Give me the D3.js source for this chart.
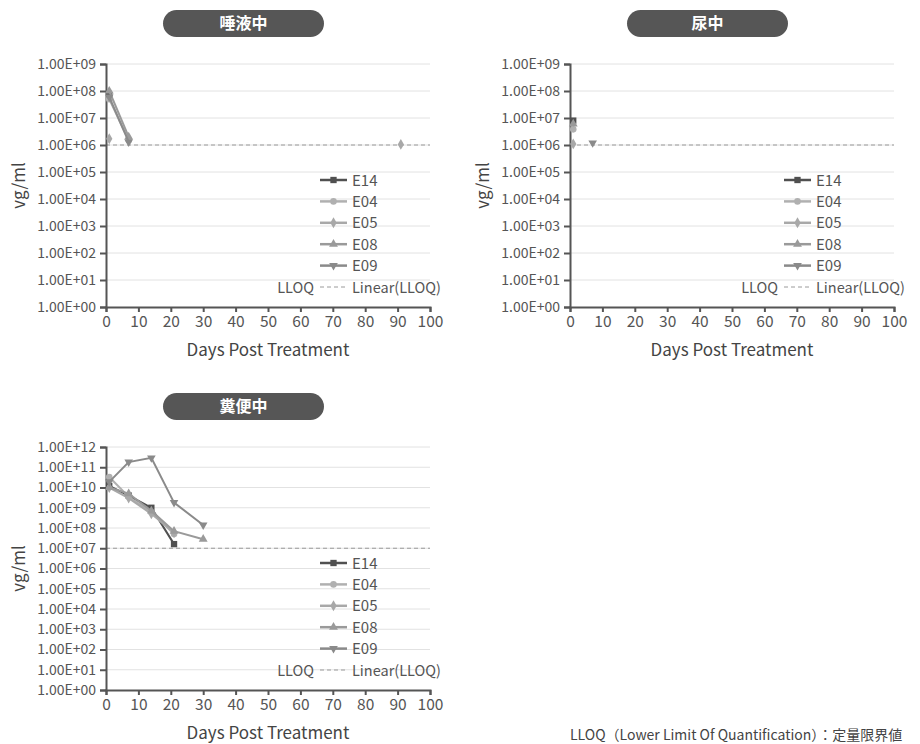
<!DOCTYPE html>
<html>
<head>
<meta charset="utf-8">
<script src="https://cdn.jsdelivr.net/npm/d3@7"></script>
<style>
  body { margin: 0; background: #fff; }
  svg { display: block; font-family: "Noto Sans CJK JP", "Noto Sans", sans-serif; }
</style>
</head>
<body>
<div id="chart"></div>
<script>
// données
const seriesNames = ["E14", "E04", "E05", "E08", "E09"];
const seriesColors = ["#505050", "#b0b0b0", "#a8a8a8", "#9a9a9a", "#8a8a8a"];
const seriesSymbols = [d3.symbolSquare, d3.symbolCircle, d3.symbolDiamond, d3.symbolTriangle, "down"];

const xTicks = [0, 10, 20, 30, 40, 50, 60, 70, 80, 90, 100];
const yTicks9 = [1, 1e1, 1e2, 1e3, 1e4, 1e5, 1e6, 1e7, 1e8, 1e9];
const yTicks12 = [1, 1e1, 1e2, 1e3, 1e4, 1e5, 1e6, 1e7, 1e8, 1e9, 1e10, 1e11, 1e12];

// [jour, vg/ml]  (null = pas de valeur -> coupure de la ligne)
const salivaE14 = [[1, 7e7]];
const salivaE04 = [[1, 5e7], [7, 1.5e6]];
const salivaE05 = [[1, 1.7e6], [7, null], [91, 1.05e6]];
const salivaE08 = [[1, 1e8], [7, 2e6]];
const salivaE09 = [[1, 6e7], [7, 1.3e6]];

const urineE14 = [[1, 8e6]];
const urineE04 = [[1, 3.8e6]];
const urineE05 = [[1, 1.1e6]];
const urineE08 = [[1, 6e6]];
const urineE09 = [[7, 1.2e6]];

const fecesE14 = [[1, 1.2e10], [7, 4e9], [14, 1e9], [21, 1.6e7]];
const fecesE04 = [[1, 3.3e10], [7, 3.5e9], [14, 6e8], [21, 5e7]];
const fecesE05 = [[1, 1e10], [7, 3e9], [14, 5e8], [21, 6e7]];
const fecesE08 = [[1, 1e10], [7, 5e9], [14, 7e8], [21, 7e7], [30, 2.8e7]];
const fecesE09 = [[1, 1.9e10], [7, 1.8e11], [14, 2.9e11], [21, 1.8e9], [30, 1.4e8]];

const charts = [
  { title: "唾液中", ox: 0, oy: 0, yTicks: yTicks9, lloq: 1e6,
    series: [salivaE14, salivaE04, salivaE05, salivaE08, salivaE09] },
  { title: "尿中", ox: 464, oy: 0, yTicks: yTicks9, lloq: 1e6,
    series: [urineE14, urineE04, urineE05, urineE08, urineE09] },
  { title: "糞便中", ox: 0, oy: 383, yTicks: yTicks12, lloq: 1e7,
    series: [fecesE14, fecesE04, fecesE05, fecesE08, fecesE09] }
];

const W = 920, H = 744;
const svg = d3.select("#chart").append("svg").attr("width", W).attr("height", H);

const plot = { left: 106, right: 430, top: 64, bottom: 307 };

function fmtE(v) {
  let e = Math.round(Math.log10(v));
  return "1.00E+" + String(e).padStart(2, "0");
}

function symbolPath(s) {
  if (s === "down") return d3.symbol().type(d3.symbolTriangle).size(32)();
  return d3.symbol().type(s).size(s === d3.symbolSquare ? 40 : 34)();
}

charts.forEach(c => {
  let g = svg.append("g").attr("transform", `translate(${c.ox},${c.oy})`);

  // pastille du titre
  g.append("rect")
    .attr("x", 163).attr("y", 10).attr("width", 161).attr("height", 27)
    .attr("rx", 13.5).attr("fill", "#565656");
  g.append("text")
    .attr("x", 243.5).attr("y", 29)
    .attr("text-anchor", "middle")
    .attr("fill", "#fff")
    .style("font-size", "16px").style("font-weight", "bold")
    .text(c.title);

  let x = d3.scaleLinear().domain([0, 100]).range([plot.left, plot.right]);
  let y = d3.scaleLog().domain([1, c.yTicks[c.yTicks.length - 1]]).range([plot.bottom, plot.top]);

  // grille
  g.append("g").selectAll("line")
    .data(c.yTicks.slice(1))
    .enter().append("line")
    .attr("x1", plot.left).attr("x2", plot.right)
    .attr("y1", d => y(d)).attr("y2", d => y(d))
    .attr("stroke", "#e2e2e2").attr("stroke-width", 1);

  // LLOQ
  g.append("line")
    .attr("x1", plot.left).attr("x2", plot.right)
    .attr("y1", y(c.lloq)).attr("y2", y(c.lloq))
    .attr("stroke", "#9a9a9a").attr("stroke-width", 1)
    .attr("stroke-dasharray", "4,3");

  // axes
  let yAxis = g.append("g")
    .attr("transform", `translate(${plot.left},0)`)
    .call(d3.axisLeft(y).tickValues(c.yTicks).tickFormat(fmtE).tickSize(6).tickPadding(4));
  let xAxis = g.append("g")
    .attr("transform", `translate(0,${plot.bottom})`)
    .call(d3.axisBottom(x).tickValues(xTicks).tickSize(5).tickPadding(4));

  [yAxis, xAxis].forEach(a => {
    a.select(".domain").attr("stroke", "#555").attr("stroke-width", 2);
    a.selectAll(".tick line").attr("stroke", "#555").attr("stroke-width", 2);
    a.selectAll(".tick text")
      .attr("fill", "#555")
      .style("font-family", "'Noto Sans CJK JP', 'Noto Sans', sans-serif")
      .style("font-size", "14px");
  });
  xAxis.selectAll(".tick text").style("font-size", "15.5px");

  // séries
  let line = d3.line()
    .defined(d => d[1] != null)
    .x(d => x(d[0]))
    .y(d => y(d[1]));

  c.series.forEach((pts, i) => {
    g.append("path")
      .datum(pts)
      .attr("fill", "none")
      .attr("stroke", seriesColors[i])
      .attr("stroke-width", 2)
      .attr("d", line);

    g.append("g").selectAll("path")
      .data(pts.filter(d => d[1] != null))
      .enter().append("path")
      .attr("d", symbolPath(seriesSymbols[i]))
      .attr("transform", d => `translate(${x(d[0])},${y(d[1])})` + (seriesSymbols[i] === "down" ? " rotate(180)" : ""))
      .attr("fill", seriesColors[i]);
  });

  // titres des axes
  g.append("text")
    .attr("x", 268).attr("y", 356)
    .attr("text-anchor", "middle")
    .attr("fill", "#444")
    .style("font-size", "17px")
    .text("Days Post Treatment");

  g.append("text")
    .attr("transform", `translate(25,${(plot.top + plot.bottom) / 2}) rotate(-90)`)
    .attr("text-anchor", "middle")
    .attr("fill", "#444")
    .style("font-size", "17px")
    .text("vg/ml");

  // légende
  let lg = g.append("g").attr("transform", "translate(320,180)");
  seriesNames.forEach((name, i) => {
    let row = lg.append("g").attr("transform", `translate(0,${i * 21.4})`);
    row.append("line")
      .attr("x1", 0).attr("x2", 27)
      .attr("stroke", seriesColors[i]).attr("stroke-width", 2.5);
    row.append("path")
      .attr("d", symbolPath(seriesSymbols[i]))
      .attr("transform", "translate(13.5,0)" + (seriesSymbols[i] === "down" ? " rotate(180)" : ""))
      .attr("fill", seriesColors[i]);
    row.append("text")
      .attr("x", 32).attr("y", 5.5)
      .attr("fill", "#555")
      .style("font-size", "15px")
      .text(name);
  });
  let lr = lg.append("g").attr("transform", `translate(0,${5 * 21.4})`);
  lr.append("text")
    .attr("x", -6).attr("y", 5.5)
    .attr("text-anchor", "end")
    .attr("fill", "#555")
    .style("font-size", "14.5px")
    .text("LLOQ");
  lr.append("line")
    .attr("x1", 0).attr("x2", 27)
    .attr("stroke", "#9a9a9a").attr("stroke-width", 1)
    .attr("stroke-dasharray", "4,3");
  lr.append("text")
    .attr("x", 32).attr("y", 5.5)
    .attr("fill", "#555")
    .style("font-size", "14.5px")
    .text("Linear(LLOQ)");
});

// note en bas à droite
svg.append("text")
  .attr("x", 570).attr("y", 740)
  .attr("fill", "#444")
  .style("font-size", "14px")
  .text("LLOQ（Lower Limit Of Quantification）：定量限界値");
</script>
</body>
</html>
